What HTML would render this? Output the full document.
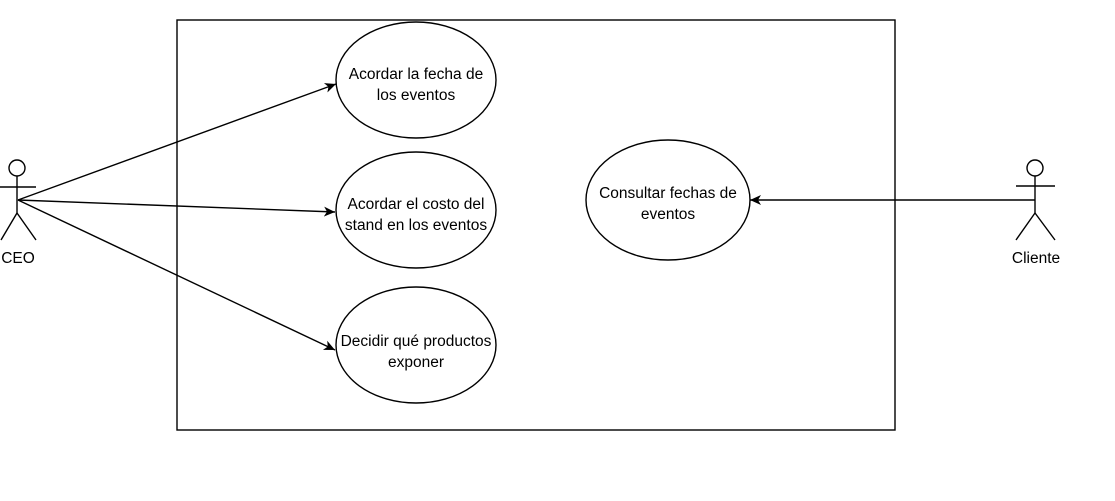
<!DOCTYPE html>
<html><head><meta charset="utf-8"><style>body{margin:0;background:#fff}</style></head><body>
<svg width="1115" height="496" xmlns="http://www.w3.org/2000/svg" font-family="Liberation Sans, Arial, sans-serif" font-size="15.5">
<defs><marker id="a" markerWidth="12" markerHeight="12" refX="11" refY="6" orient="auto" markerUnits="userSpaceOnUse"><path d="M0,1 L11,6 L0,11 L3,6 Z" fill="#000"/></marker></defs>
<rect x="177" y="20" width="718" height="410" fill="none" stroke="#000" stroke-width="1.4"/>
<g fill="#fff" stroke="#000" stroke-width="1.4">
<ellipse cx="416" cy="80" rx="80" ry="58"/>
<ellipse cx="416" cy="210" rx="80" ry="58"/>
<ellipse cx="416" cy="345" rx="80" ry="58"/>
<ellipse cx="668" cy="200" rx="82" ry="60"/>
</g>
<g stroke="#000" stroke-width="1.4" fill="none">
<line x1="18" y1="200" x2="336" y2="84" marker-end="url(#a)"/>
<line x1="18" y1="200" x2="335" y2="212" marker-end="url(#a)"/>
<line x1="18" y1="200" x2="335" y2="350" marker-end="url(#a)"/>
<line x1="1035" y1="200" x2="750" y2="200" marker-end="url(#a)"/>
<circle cx="17" cy="168" r="8" fill="#fff"/>
<line x1="0" y1="187" x2="36" y2="187"/><line x1="17" y1="176" x2="17" y2="213"/>
<line x1="17" y1="213" x2="1" y2="240"/><line x1="17" y1="213" x2="36" y2="240"/>
<circle cx="1035" cy="168" r="8" fill="#fff"/>
<line x1="1016" y1="186" x2="1055" y2="186"/><line x1="1035" y1="176" x2="1035" y2="213"/>
<line x1="1035" y1="213" x2="1016" y2="240"/><line x1="1035" y1="213" x2="1055" y2="240"/>
</g>
<g text-anchor="middle" fill="#000">
<text x="416" y="79">Acordar la fecha de</text><text x="416" y="100">los eventos</text>
<text x="416" y="209">Acordar el costo del</text><text x="416" y="230">stand en los eventos</text>
<text x="416" y="346">Decidir qué productos</text><text x="416" y="367">exponer</text>
<text x="668" y="198">Consultar fechas de</text><text x="668" y="219">eventos</text>
<text x="18" y="263">CEO</text>
<text x="1036" y="263">Cliente</text>
</g>
</svg>
</body></html>
